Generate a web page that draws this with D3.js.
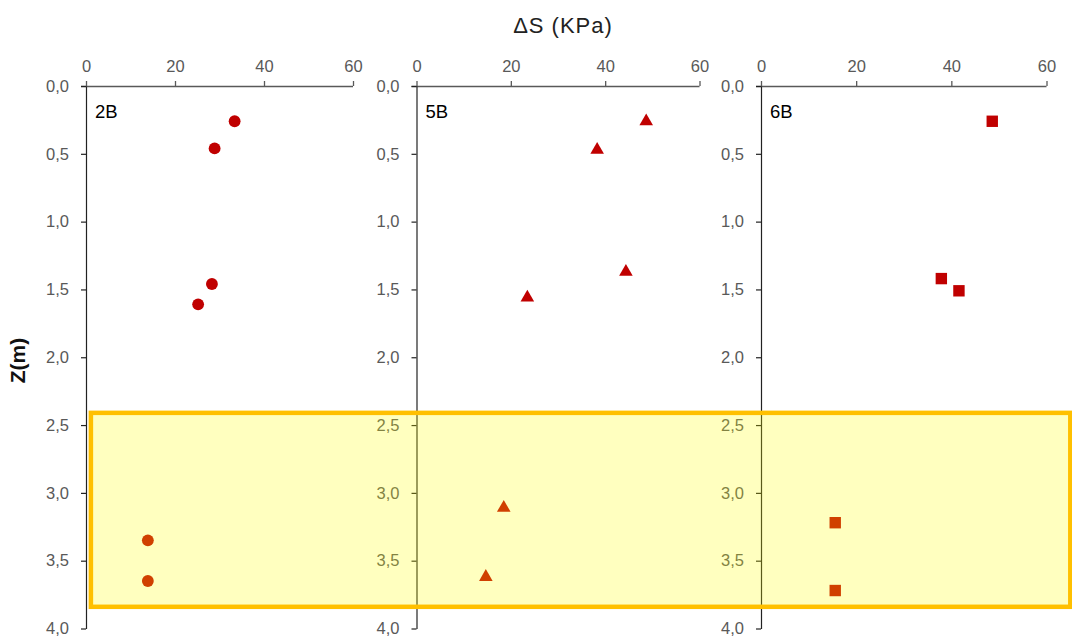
<!DOCTYPE html>
<html>
<head>
<meta charset="utf-8">
<script src="https://cdn.jsdelivr.net/npm/d3@7"></script>
<style>
  body { margin: 0; background: #fff; }
  svg { display: block; font-family: "Liberation Sans", Arial, sans-serif; }
</style>
</head>
<body>
<svg id="chart" width="1072" height="637"></svg>
<script>
// --- data ---
var boreholes = ["2B", "5B", "6B"];
var ds2B = [33.4, 28.9, 28.3, 25.2, 13.9, 13.9];
var z2B  = [0.26, 0.46, 1.46, 1.61, 3.35, 3.65];
var ds5B = [48.7, 38.3, 44.4, 23.5, 18.5, 14.7];
var z5B  = [0.26, 0.47, 1.37, 1.56, 3.11, 3.62];
var ds6B = [48.6, 37.9, 41.6, 15.6, 15.6];
var z6B  = [0.26, 1.42, 1.51, 3.22, 3.72];
var xTicks = [0, 20, 40, 60];
var zTicks = [0, 0.5, 1, 1.5, 2, 2.5, 3, 3.5, 4];
var zoneZ = [2.41, 3.84];   // highlighted depth band
var zoneDs = [1.1, 65];     // from panel 1 to past panel 3

var series = [
  { name: "2B", ds: ds2B, z: z2B, shape: d3.symbolCircle, size: 110 },
  { name: "5B", ds: ds5B, z: z5B, shape: d3.symbolTriangle, size: 80 },
  { name: "6B", ds: ds6B, z: z6B, shape: d3.symbolSquare, size: 130 }
];

// --- layout ---
var svg = d3.select("#chart");
var plotTop = 86, plotBottom = 628.5;
var panels = [ [86, 353], [416.5, 699.5], [761, 1046.5] ];
var markerColor = "#C00000";
var textColor = "#595959";

var y = d3.scaleLinear().domain([0, 4]).range([plotTop, plotBottom]);
var fmt = d3.format(".1f");

var xs = [];
panels.forEach(function(p, i)
{
    var x = d3.scaleLinear().domain([0, 60]).range(p);
    xs.push(x);
    var g = svg.append("g");

    // top axis
    var xAxis = d3.axisTop(x).tickValues(xTicks).tickSize(5).tickSizeOuter(0).tickPadding(9);
    var gx = g.append("g")
        .attr("transform", "translate(0," + plotTop + ")")
        .call(xAxis);
    gx.select(".domain").attr("stroke", "#595959").attr("stroke-width", 1.3)
        .attr("d", "M" + (p[0] - 5) + ",0.5H" + p[1]);
    gx.selectAll(".tick line").attr("stroke", "#595959").attr("stroke-width", 1.3);
    gx.selectAll(".tick text").attr("fill", textColor).style("font-size", "16.5px");

    // left axis
    var yAxis = d3.axisLeft(y).tickValues(zTicks).tickSize(5).tickSizeOuter(0).tickPadding(12)
        .tickFormat(function(d) { return fmt(d).replace(".", ","); });
    var gy = g.append("g")
        .attr("transform", "translate(" + p[0] + ",0)")
        .call(yAxis);
    gy.select(".domain").attr("stroke", "#222").attr("stroke-width", 1.2);
    gy.selectAll(".tick line").attr("stroke", "#222").attr("stroke-width", 1.2);
    gy.selectAll(".tick text").attr("fill", textColor).style("font-size", "16.5px");

    g.append("text")
        .attr("x", p[0] + 9)
        .attr("y", plotTop + 32)
        .attr("fill", "#000")
        .style("font-size", "18.5px")
        .text(boreholes[i]);

    var s = series[i];
    g.selectAll("path.pt")
        .data(d3.range(s.ds.length))
        .enter().append("path")
        .attr("class", "pt")
        .attr("d", d3.symbol().type(s.shape).size(s.size))
        .attr("transform", function(k) { return "translate(" + x(s.ds[k]) + "," + y(s.z[k]) + ")"; })
        .attr("fill", markerColor);
});

// highlighted band, semi transparent over everything
svg.append("rect")
    .attr("x", xs[0](zoneDs[0]))
    .attr("y", y(zoneZ[0]))
    .attr("width", xs[2](zoneDs[1]) - xs[0](zoneDs[0]))
    .attr("height", y(zoneZ[1]) - y(zoneZ[0]))
    .attr("fill", "#FFFF00")
    .attr("fill-opacity", 0.25)
    .attr("stroke", "#FFC000")
    .attr("stroke-width", 4.5);

// titles
svg.append("text")
    .attr("x", 563)
    .attr("y", 33)
    .attr("text-anchor", "middle")
    .attr("fill", "#222")
    .style("font-size", "22px")
    .style("letter-spacing", "1px")
    .text("\u0394S (KPa)");

svg.append("g")
    .attr("transform", "translate(25,360.5)")
    .append("text")
    .attr("text-anchor", "middle")
    .attr("transform", "rotate(-90)")
    .attr("fill", "#111")
    .style("font-size", "21px")
    .style("font-weight", "bold")
    .text("Z(m)");
</script>
</body>
</html>
